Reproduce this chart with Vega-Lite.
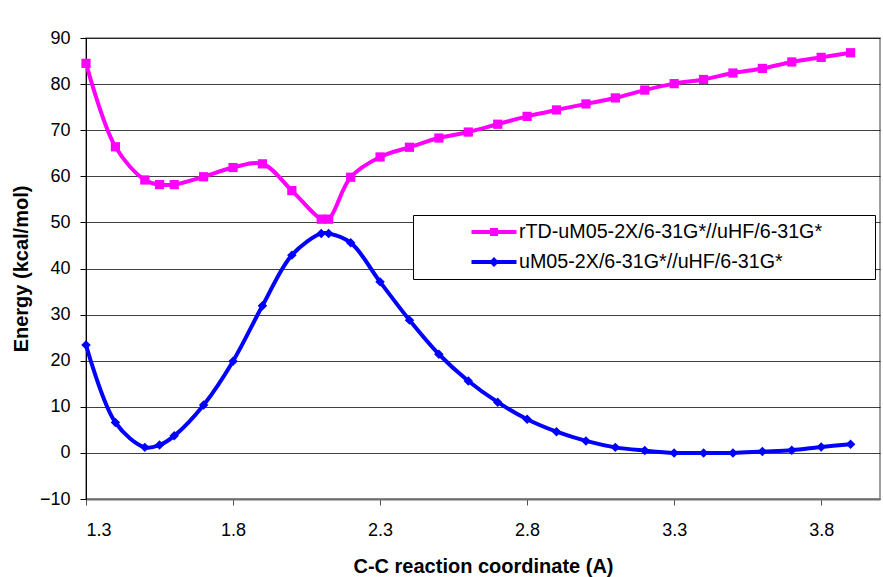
{
  "$schema": "https://vega.github.io/schema/vega-lite/v6.json",
  "width": 794,
  "height": 461,
  "autosize": {"type": "none"},
  "padding": {"left": 86, "top": 38, "right": 3, "bottom": 78},
  "background": "white",
  "config": {
    "font": "Liberation Sans",
    "view": {"stroke": "#808080", "strokeWidth": 1.5}
  },
  "data": {
    "values": [
      {"x": 1.3, "energy": 84.5, "series": "rTD-uM05-2X/6-31G*//uHF/6-31G*"},
      {"x": 1.4, "energy": 66.4, "series": "rTD-uM05-2X/6-31G*//uHF/6-31G*"},
      {"x": 1.5, "energy": 59.2, "series": "rTD-uM05-2X/6-31G*//uHF/6-31G*"},
      {"x": 1.55, "energy": 58.2, "series": "rTD-uM05-2X/6-31G*//uHF/6-31G*"},
      {"x": 1.6, "energy": 58.2, "series": "rTD-uM05-2X/6-31G*//uHF/6-31G*"},
      {"x": 1.7, "energy": 59.9, "series": "rTD-uM05-2X/6-31G*//uHF/6-31G*"},
      {"x": 1.8, "energy": 61.9, "series": "rTD-uM05-2X/6-31G*//uHF/6-31G*"},
      {"x": 1.9, "energy": 62.7, "series": "rTD-uM05-2X/6-31G*//uHF/6-31G*"},
      {"x": 2.0, "energy": 56.9, "series": "rTD-uM05-2X/6-31G*//uHF/6-31G*"},
      {"x": 2.1, "energy": 50.7, "series": "rTD-uM05-2X/6-31G*//uHF/6-31G*"},
      {"x": 2.125, "energy": 50.7, "series": "rTD-uM05-2X/6-31G*//uHF/6-31G*"},
      {"x": 2.2, "energy": 59.8, "series": "rTD-uM05-2X/6-31G*//uHF/6-31G*"},
      {"x": 2.3, "energy": 64.2, "series": "rTD-uM05-2X/6-31G*//uHF/6-31G*"},
      {"x": 2.4, "energy": 66.3, "series": "rTD-uM05-2X/6-31G*//uHF/6-31G*"},
      {"x": 2.5, "energy": 68.3, "series": "rTD-uM05-2X/6-31G*//uHF/6-31G*"},
      {"x": 2.6, "energy": 69.6, "series": "rTD-uM05-2X/6-31G*//uHF/6-31G*"},
      {"x": 2.7, "energy": 71.3, "series": "rTD-uM05-2X/6-31G*//uHF/6-31G*"},
      {"x": 2.8, "energy": 73.0, "series": "rTD-uM05-2X/6-31G*//uHF/6-31G*"},
      {"x": 2.9, "energy": 74.4, "series": "rTD-uM05-2X/6-31G*//uHF/6-31G*"},
      {"x": 3.0, "energy": 75.7, "series": "rTD-uM05-2X/6-31G*//uHF/6-31G*"},
      {"x": 3.1, "energy": 77.0, "series": "rTD-uM05-2X/6-31G*//uHF/6-31G*"},
      {"x": 3.2, "energy": 78.7, "series": "rTD-uM05-2X/6-31G*//uHF/6-31G*"},
      {"x": 3.3, "energy": 80.1, "series": "rTD-uM05-2X/6-31G*//uHF/6-31G*"},
      {"x": 3.4, "energy": 81.0, "series": "rTD-uM05-2X/6-31G*//uHF/6-31G*"},
      {"x": 3.5, "energy": 82.4, "series": "rTD-uM05-2X/6-31G*//uHF/6-31G*"},
      {"x": 3.6, "energy": 83.4, "series": "rTD-uM05-2X/6-31G*//uHF/6-31G*"},
      {"x": 3.7, "energy": 84.8, "series": "rTD-uM05-2X/6-31G*//uHF/6-31G*"},
      {"x": 3.8, "energy": 85.8, "series": "rTD-uM05-2X/6-31G*//uHF/6-31G*"},
      {"x": 3.9, "energy": 86.8, "series": "rTD-uM05-2X/6-31G*//uHF/6-31G*"},
      {"x": 1.3, "energy": 23.4, "series": "uM05-2X/6-31G*//uHF/6-31G*"},
      {"x": 1.4, "energy": 6.6, "series": "uM05-2X/6-31G*//uHF/6-31G*"},
      {"x": 1.5, "energy": 1.2, "series": "uM05-2X/6-31G*//uHF/6-31G*"},
      {"x": 1.55, "energy": 1.7, "series": "uM05-2X/6-31G*//uHF/6-31G*"},
      {"x": 1.6, "energy": 3.7, "series": "uM05-2X/6-31G*//uHF/6-31G*"},
      {"x": 1.7, "energy": 10.4, "series": "uM05-2X/6-31G*//uHF/6-31G*"},
      {"x": 1.8, "energy": 19.9, "series": "uM05-2X/6-31G*//uHF/6-31G*"},
      {"x": 1.9, "energy": 31.9, "series": "uM05-2X/6-31G*//uHF/6-31G*"},
      {"x": 2.0, "energy": 42.9, "series": "uM05-2X/6-31G*//uHF/6-31G*"},
      {"x": 2.1, "energy": 47.6, "series": "uM05-2X/6-31G*//uHF/6-31G*"},
      {"x": 2.125, "energy": 47.6, "series": "uM05-2X/6-31G*//uHF/6-31G*"},
      {"x": 2.2, "energy": 45.6, "series": "uM05-2X/6-31G*//uHF/6-31G*"},
      {"x": 2.3, "energy": 37.1, "series": "uM05-2X/6-31G*//uHF/6-31G*"},
      {"x": 2.4, "energy": 28.8, "series": "uM05-2X/6-31G*//uHF/6-31G*"},
      {"x": 2.5, "energy": 21.4, "series": "uM05-2X/6-31G*//uHF/6-31G*"},
      {"x": 2.6, "energy": 15.6, "series": "uM05-2X/6-31G*//uHF/6-31G*"},
      {"x": 2.7, "energy": 11.0, "series": "uM05-2X/6-31G*//uHF/6-31G*"},
      {"x": 2.8, "energy": 7.3, "series": "uM05-2X/6-31G*//uHF/6-31G*"},
      {"x": 2.9, "energy": 4.6, "series": "uM05-2X/6-31G*//uHF/6-31G*"},
      {"x": 3.0, "energy": 2.6, "series": "uM05-2X/6-31G*//uHF/6-31G*"},
      {"x": 3.1, "energy": 1.2, "series": "uM05-2X/6-31G*//uHF/6-31G*"},
      {"x": 3.2, "energy": 0.5, "series": "uM05-2X/6-31G*//uHF/6-31G*"},
      {"x": 3.3, "energy": 0.0, "series": "uM05-2X/6-31G*//uHF/6-31G*"},
      {"x": 3.4, "energy": 0.0, "series": "uM05-2X/6-31G*//uHF/6-31G*"},
      {"x": 3.5, "energy": 0.0, "series": "uM05-2X/6-31G*//uHF/6-31G*"},
      {"x": 3.6, "energy": 0.3, "series": "uM05-2X/6-31G*//uHF/6-31G*"},
      {"x": 3.7, "energy": 0.6, "series": "uM05-2X/6-31G*//uHF/6-31G*"},
      {"x": 3.8, "energy": 1.3, "series": "uM05-2X/6-31G*//uHF/6-31G*"},
      {"x": 3.9, "energy": 1.9, "series": "uM05-2X/6-31G*//uHF/6-31G*"}
    ]
  },
  "encoding": {
    "x": {
      "field": "x",
      "type": "quantitative",
      "scale": {"domain": [1.3, 4.0], "nice": false, "zero": false},
      "axis": {
        "values": [1.3, 1.8, 2.3, 2.8, 3.3, 3.8],
        "format": ".1f",
        "grid": false,
        "title": "C-C reaction coordinate (A)",
        "titleFont": "Liberation Sans",
        "titleFontSize": 20,
        "titleFontWeight": "bold",
        "titleColor": "black",
        "titleBaseline": "alphabetic",
        "titleY": 73,
        "labelFontSize": 18,
        "labelColor": "black",
        "labelBaseline": "alphabetic",
        "labelPadding": 30.5,
        "domainColor": "#707070",
        "domainWidth": 2,
        "tickColor": "#505050",
        "tickSize": 6,
        "tickWidth": 1
      }
    },
    "y": {
      "field": "energy",
      "type": "quantitative",
      "scale": {"domain": [-10, 90], "nice": false, "zero": false},
      "axis": {
        "values": [-10, 0, 10, 20, 30, 40, 50, 60, 70, 80, 90],
        "grid": true,
        "gridColor": "#000000",
        "gridOpacity": 0.75,
        "gridWidth": 1,
        "title": "Energy (kcal/mol)",
        "titleFont": "Liberation Sans",
        "titleFontSize": 20,
        "titleFontWeight": "bold",
        "titleColor": "black",
        "titleBaseline": "alphabetic",
        "titleAngle": -90,
        "titleX": -59,
        "titleY": 230.5,
        "labelFontSize": 18,
        "labelColor": "black",
        "labelPadding": 10,
        "domainColor": "#000000",
        "domainWidth": 1,
        "tickColor": "#000000",
        "tickSize": 6,
        "tickWidth": 1
      }
    },
    "color": {
      "field": "series",
      "type": "nominal",
      "scale": {
        "domain": ["rTD-uM05-2X/6-31G*//uHF/6-31G*", "uM05-2X/6-31G*//uHF/6-31G*"],
        "range": ["#ff00ff", "#0000ff"]
      },
      "legend": {
        "orient": "none",
        "legendX": 327,
        "legendY": 177,
        "title": null,
        "padding": 7,
        "rowPadding": 10,
        "strokeColor": "#000000",
        "fillColor": "#ffffff",
        "cornerRadius": 0,
        "labelFont": "Liberation Sans",
        "labelFontSize": 19.7,
        "labelColor": "black",
        "labelLimit": 1000,
        "labelOffset": 15,
        "labelExpr": "datum.label + '\u2800\u2800\u2800'",
        "symbolOffset": 64,
        "symbolSize": 400,
        "symbolStrokeWidth": 0,
        "symbolOpacity": 1,
        "encode": {
          "symbols": {
            "update": {
              "shape": {"signal": "datum.value === 'rTD-uM05-2X/6-31G*//uHF/6-31G*' ? 'M-2.25,-0.2H2.25V0.2H-2.25Z M-0.4,-0.4H0.4V0.4H-0.4Z' : 'M-2.25,-0.2H2.25V0.2H-2.25Z M0,-0.5L0.5,0L0,0.5L-0.5,0Z'"},
              "fill": {"signal": "datum.value === 'rTD-uM05-2X/6-31G*//uHF/6-31G*' ? '#ff00ff' : '#0000ff'"},
              "fillOpacity": {"value": 1},
              "strokeWidth": {"value": 0}
            }
          }
        }
      }
    }
  },
  "layer": [
    {
      "mark": {"type": "line", "interpolate": "catmull-rom", "strokeWidth": 4}
    },
    {
      "transform": [{"filter": {"field": "series", "equal": "rTD-uM05-2X/6-31G*//uHF/6-31G*"}}],
      "mark": {"type": "point", "shape": "square", "filled": true, "opacity": 1, "size": 85}
    },
    {
      "transform": [{"filter": {"field": "series", "equal": "uM05-2X/6-31G*//uHF/6-31G*"}}],
      "mark": {"type": "point", "shape": "diamond", "filled": true, "opacity": 1, "size": 90}
    }
  ]
}
